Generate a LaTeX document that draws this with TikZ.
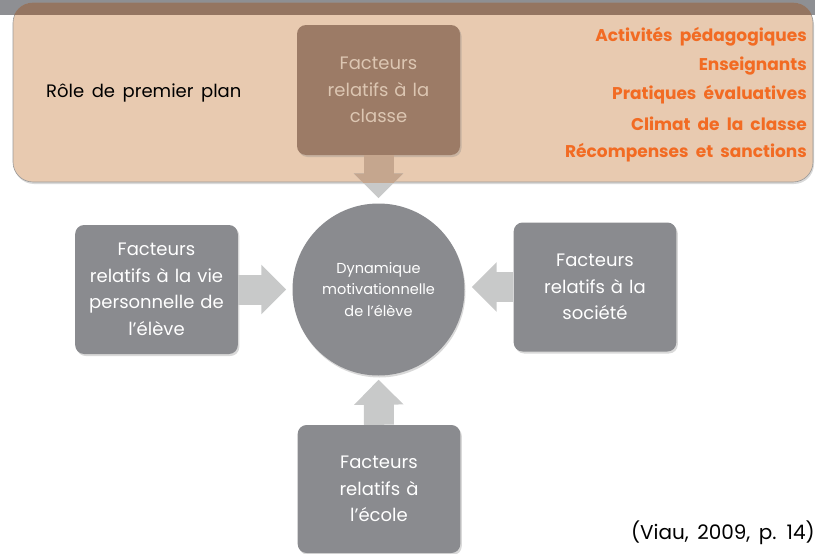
\documentclass[tikz,border=0pt]{standalone}
\usepackage{fontspec}
\setmainfont{Poppins}
\usetikzlibrary{arrows.meta,shadows}

\definecolor{boxgray}{HTML}{8A8B8F}
\definecolor{arrowgray}{HTML}{C8C9C9}
\definecolor{beige}{HTML}{E8CAB0}
\definecolor{brownbox}{HTML}{9C7B66}
\definecolor{brownarrow}{HTML}{C5A68E}
\definecolor{orangetxt}{HTML}{F26B23}
\definecolor{classetxt}{HTML}{DCC6B2}
\definecolor{topgray}{HTML}{8E8F93}

\newcommand{\widesp}{\spaceskip=0.42em plus 0.1em minus 0.05em}

\tikzset{
  factor/.style={fill=boxgray, rounded corners=9pt, minimum width=162pt,
    minimum height=129pt, text width=156pt, align=center, text=white,
    font=\fontsize{18}{26.5}\selectfont\widesp,
    drop shadow={opacity=0.3,shadow xshift=1.5pt,shadow yshift=-2pt}},
  fleche/.style={arrowgray, line width=30pt, -{Triangle[width=48pt,length=25pt]}},
}

\begin{document}
\begin{tikzpicture}[x=1pt,y=-1pt]
  \useasboundingbox (0,0) rectangle (815,554);
  % title strip and foreground frame
  \fill[topgray] (0,0) rectangle (815,15);
  \node[fill=beige, draw=gray!80, line width=0.6pt, rounded corners=20pt,
        minimum width=800pt, minimum height=179pt,
        drop shadow={opacity=0.3,shadow xshift=1pt,shadow yshift=-2pt}] (plan) at (413,92.5) {};
  \begin{scope}
    \clip[rounded corners=20pt] (plan.north west) rectangle (plan.south east);
    \fill[brownbox!95!black] (0,0) rectangle (815,15);
  \end{scope}
  \node[anchor=west, inner sep=0pt, font=\fontsize{18}{20}\selectfont\widesp] (role) at (46,93) {Rôle de premier plan};
  \foreach \txt [count=\i] in {Activités pédagogiques,Enseignants,Pratiques évaluatives,Climat de la classe,Récompenses et sanctions} {
      \node[anchor=east, inner sep=0pt, text=orangetxt, font=\fontsize{17}{20}\selectfont\bfseries\widesp] (item\i) at (807,{8+29*\i}) {\txt};
  }

  % center
  \node[circle, fill=boxgray, minimum size=172pt, inner sep=0pt, align=center, text=white,
        font=\fontsize{14.5}{21.5}\selectfont,
        drop shadow={opacity=0.3,shadow xshift=1pt,shadow yshift=-2pt}] (dyn) at (378.5,289.5)
        {Dynamique\\motivationnelle\\de l’élève};

  % the four factors
  \node[factor, fill=brownbox, text=classetxt, minimum width=163pt, minimum height=130pt] (classe) at (378.5,90)
        {Facteurs\\relatifs à la\\classe};
  \node[factor] (vie) at (156.5,289.5) {Facteurs\\relatifs à la vie\\personnelle de\\l’élève};
  \node[factor] (societe) at (595,287) {Facteurs\\relatifs à la\\société};
  \node[factor, minimum height=128pt] (ecole) at (379,489) {Facteurs\\relatifs à\\l’école};

  % block arrows
  \draw[fleche, shorten >=5pt] (classe.south) -- (dyn.north);
  \begin{scope}
    \clip (plan.north west) rectangle (plan.south east);
    \draw[fleche, brownarrow, shorten >=5pt] (classe.south) -- (dyn.north);
  \end{scope}
  \draw[fleche, shorten >=6pt] (vie.east) -- (dyn.west);
  \draw[fleche, shorten >=7pt] (societe.west) -- (societe.west -| dyn.east);
  \draw[fleche, shorten >=4pt] (ecole.north) -- (dyn.south);

  \node[anchor=east, inner sep=0pt, font=\fontsize{20}{22}\selectfont\widesp] (source) at (815,533) {(Viau, 2009, p. 14)};
\end{tikzpicture}
\end{document}
